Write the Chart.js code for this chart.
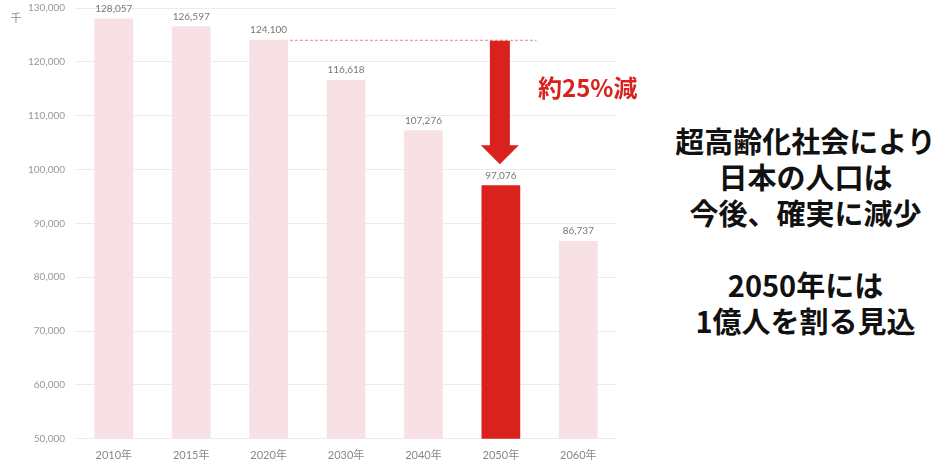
<!DOCTYPE html>
<html>
<head>
<meta charset="utf-8">
<script src="https://cdn.jsdelivr.net/npm/chart.js@4"></script>
<style>
  body { margin: 0; background: #fff; overflow: hidden; }
  #wrap { position: absolute; left: 0; top: -8px; width: 660px; height: 480px; }
  #note {
    position: absolute; left: 660px; top: 122px; width: 291px;
    text-align: center; font-family: "Noto Sans CJK JP", sans-serif;
    font-weight: 700; font-size: 29px; line-height: 36px; color: #111;
  }
</style>
</head>
<body>
<div id="wrap"><canvas id="popChart"></canvas></div>
<div id="note">超高齢化社会により<br>日本の人口は<br>今後、確実に減少<br><br>2050年には<br>1億人を割る見込</div>
<script>
// 人口（千人）
const years = ['2010年', '2015年', '2020年', '2030年', '2040年', '2050年', '2060年'];
const population = [128057, 126597, 124100, 116618, 107276, 97076, 86737];
const yTicks = [50000, 60000, 70000, 80000, 90000, 100000, 110000, 120000, 130000];

const unitLabel = '千';
const dropLabel = '約25%減';
const highlightYear = '2050年';
const baseYear = '2020年';
const arrowTipValue = 101000; // where the arrow point stops

const pink = 'rgb(248,225,229)';
const red = 'rgb(217,33,30)';

// value labels above each bar
const valueLabels = {
  id: 'valueLabels',
  afterDatasetsDraw(chart) {
    const ctx = chart.ctx;
    const meta = chart.getDatasetMeta(0);
    ctx.save();
    ctx.font = '10px Lato, sans-serif';
    ctx.fillStyle = '#777';
    ctx.textAlign = 'center';
    ctx.textBaseline = 'bottom';
    meta.data.forEach((bar, i) => {
      ctx.fillText(population[i].toLocaleString('en-US'), bar.x, bar.y - 5);
    });
    ctx.restore();
  }
};

// dashed reference line, arrow, unit
const annotate = {
  id: 'annotate',
  afterDraw(chart) {
    const ctx = chart.ctx;
    const x = chart.scales.x, y = chart.scales.y;
    const meta = chart.getDatasetMeta(0);
    const bi = years.indexOf(baseYear), hi = years.indexOf(highlightYear);
    const baseBar = meta.data[bi];
    const hx = x.getPixelForValue(hi);
    const step = x.getPixelForValue(1) - x.getPixelForValue(0);
    const yTop = y.getPixelForValue(population[bi]);
    const yTip = y.getPixelForValue(arrowTipValue);

    ctx.save();
    // dashed line
    ctx.strokeStyle = 'rgba(217,33,30,0.7)';
    ctx.lineWidth = 0.8;
    ctx.setLineDash([3, 2]);
    ctx.beginPath();
    ctx.moveTo(baseBar.x + baseBar.width / 2 + 2, yTop + 0.5);
    ctx.lineTo(hx + step * 0.46, yTop + 0.5);
    ctx.stroke();
    ctx.setLineDash([]);

    // arrow
    const shaftW = 20, headW = 38, headH = 19;
    ctx.fillStyle = red;
    ctx.beginPath();
    ctx.moveTo(hx - shaftW / 2 - 1, yTop + 1);
    ctx.lineTo(hx + shaftW / 2 - 1, yTop + 1);
    ctx.lineTo(hx + shaftW / 2 - 1, yTip - headH);
    ctx.lineTo(hx + headW / 2 - 1, yTip - headH);
    ctx.lineTo(hx - 1, yTip);
    ctx.lineTo(hx - headW / 2 - 1, yTip - headH);
    ctx.lineTo(hx - shaftW / 2 - 1, yTip - headH);
    ctx.closePath();
    ctx.fill();

    // drop label
    ctx.font = 'bold 24px "Noto Sans CJK JP", sans-serif';
    ctx.textAlign = 'left';
    ctx.textBaseline = 'middle';
    ctx.fillText(dropLabel, hx + step * 0.48, y.getPixelForValue(115200));

    // unit
    ctx.font = '11px "Noto Sans CJK JP", sans-serif';
    ctx.fillStyle = '#888';
    ctx.textAlign = 'center';
    ctx.fillText(unitLabel, 16, 26);
    ctx.restore();
  }
};

new Chart(document.getElementById('popChart'), {
  type: 'bar',
  data: {
    labels: years,
    datasets: [{
      data: population,
      backgroundColor: years.map(yr => yr === highlightYear ? red : pink),
      barPercentage: 0.5,
      categoryPercentage: 1.0
    }]
  },
  options: {
    responsive: true,
    maintainAspectRatio: false,
    animation: false,
    layout: { padding: { top: 2, right: 43, bottom: 0, left: 18 } },
    plugins: { legend: { display: false }, tooltip: { enabled: false } },
    scales: {
      x: {
        grid: { display: false, drawTicks: false },
        border: { display: false },
        ticks: { padding: 10, color: '#888', font: { family: 'Lato, "Noto Sans CJK JP", sans-serif', size: 11 } }
      },
      y: {
        min: yTicks[0],
        max: yTicks[yTicks.length - 1],
        afterBuildTicks(axis) { axis.ticks = yTicks.map(v => ({ value: v })); },
        grid: { color: '#ececec', drawTicks: false },
        border: { display: false },
        ticks: {
          padding: 10, color: '#999',
          font: { family: 'Lato, sans-serif', size: 10 },
          callback: v => v.toLocaleString('en-US')
        }
      }
    }
  },
  plugins: [valueLabels, annotate]
});
</script>
</body>
</html>
